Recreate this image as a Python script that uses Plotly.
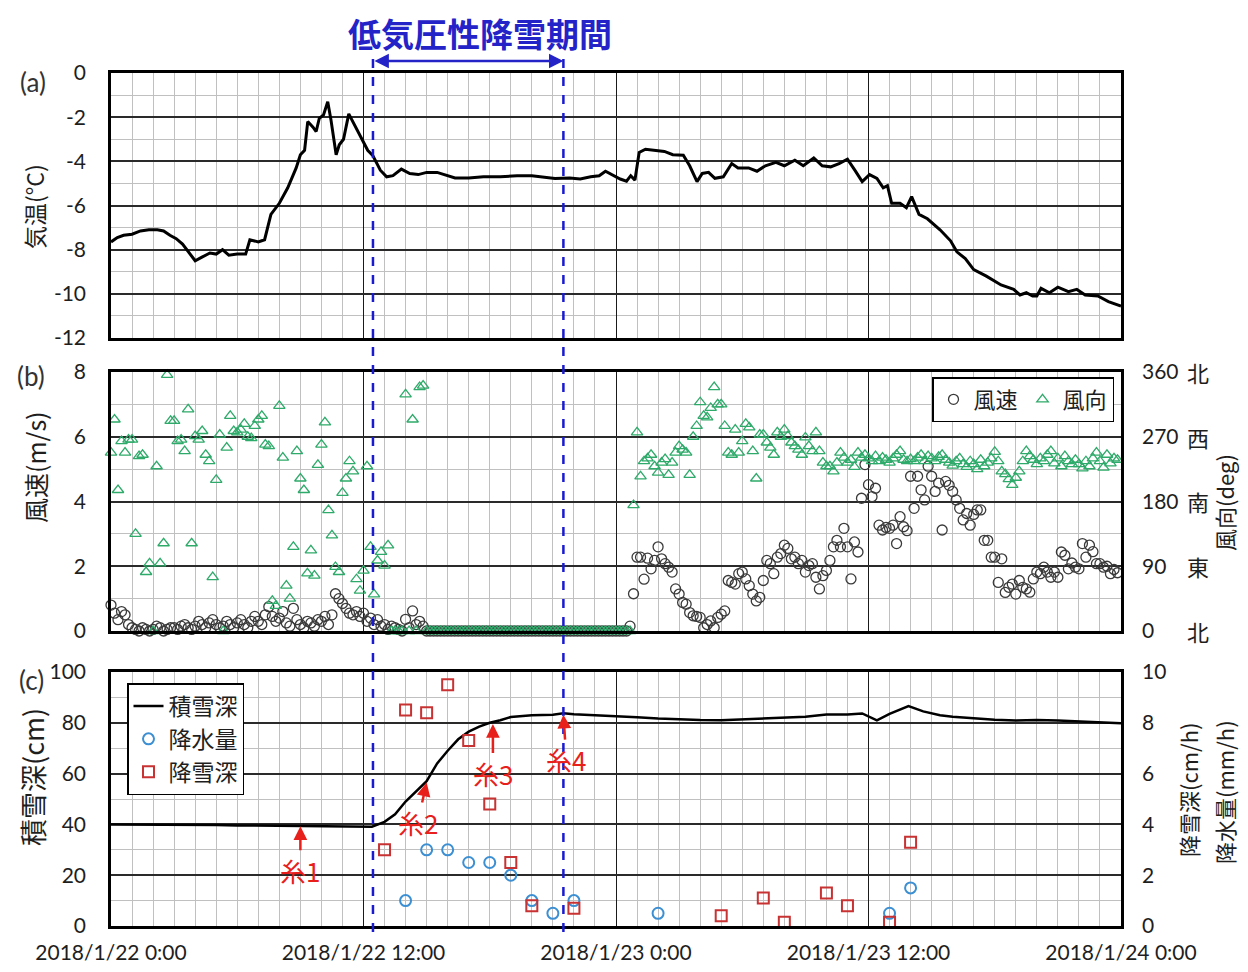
import pandas as pd
import plotly.graph_objects as go
from plotly.subplots import make_subplots

BASE = pd.Timestamp("2018-01-22 00:00")

# ---------------- data ----------------
# (a) air temperature [deg C] at hour offsets from 2018/1/22 0:00
temp_hours = [0.0, 0.3, 0.6, 1.0, 1.4, 1.8, 2.2, 2.5, 2.8, 3.1, 3.4, 3.7, 4.0, 4.3, 4.7, 5.0,
              5.3, 5.6, 6.0, 6.4, 6.6, 7.0, 7.3, 7.6, 8.0, 8.4, 8.8, 9.0, 9.2, 9.35, 9.6, 9.75,
              9.9, 10.1, 10.3, 10.45, 10.7, 10.85, 11.05, 11.3, 11.6, 11.9, 12.2, 12.45, 12.8,
              13.1, 13.4, 13.8, 14.2, 14.6, 15.0, 15.5, 16.0, 16.35, 17.0, 17.7, 18.5, 19.3,
              20.0, 20.6, 21.1, 21.8, 22.3, 22.8, 23.2, 23.5, 23.8, 24.2, 24.5, 24.7, 24.9,
              25.1, 25.4, 25.8, 26.3, 26.7, 27.2, 27.5, 27.85, 28.1, 28.4, 28.7, 29.1, 29.5,
              29.8, 30.3, 30.7, 31.1, 31.6, 32.0, 32.5, 32.9, 33.4, 33.8, 34.2, 34.6, 35.0,
              35.35, 35.7, 36.05, 36.4, 36.7, 36.9, 37.1, 37.5, 37.8, 38.05, 38.4, 38.8, 39.4,
              39.9, 40.2, 40.6, 41.0, 41.6, 42.3, 42.9, 43.2, 43.5, 43.8, 44.0, 44.2, 44.6,
              45.0, 45.5, 45.9, 46.3, 46.9, 47.4, 48.0]
temp_values = [-7.65, -7.45, -7.35, -7.3, -7.15, -7.1, -7.1, -7.15, -7.35, -7.5, -7.75, -8.1,
               -8.5, -8.35, -8.15, -8.2, -8.0, -8.25, -8.2, -8.2, -7.55, -7.65, -7.55, -6.4,
               -5.9, -5.2, -4.3, -3.7, -3.5, -2.2, -2.45, -2.65, -2.05, -1.9, -1.3, -2.1, -3.7,
               -3.25, -3.0, -1.85, -2.4, -3.0, -3.5, -3.75, -4.4, -4.7, -4.65, -4.35, -4.55,
               -4.6, -4.5, -4.5, -4.65, -4.75, -4.75, -4.7, -4.7, -4.65, -4.65, -4.72, -4.78,
               -4.75, -4.8, -4.7, -4.65, -4.45, -4.6, -4.8, -4.9, -4.65, -4.85, -3.6, -3.45,
               -3.5, -3.55, -3.7, -3.72, -4.2, -4.92, -4.55, -4.5, -4.77, -4.7, -4.1, -4.3,
               -4.3, -4.45, -4.2, -4.05, -4.2, -3.95, -4.2, -3.85, -4.2, -4.25, -4.1, -3.9,
               -4.4, -4.92, -4.6, -4.77, -5.2, -5.1, -5.9, -5.9, -6.1, -5.6, -6.4, -6.6, -7.1,
               -7.6, -8.1, -8.4, -8.9, -9.2, -9.6, -9.8, -10.05, -9.95, -10.1, -10.1, -9.75,
               -9.95, -9.7, -9.9, -9.8, -10.05, -10.1, -10.35, -10.55]

# (b) 10-minute wind speed [m/s] (one row per hour, 6 values each)
wind_speed_rows = [
    [0.80, 0.55, 0.35, 0.60, 0.50, 0.20], [0.10, 0.05, 0.00, 0.10, 0.05, 0.00],
    [0.05, 0.15, 0.10, 0.00, 0.05, 0.10], [0.10, 0.05, 0.15, 0.20, 0.10, 0.05],
    [0.15, 0.30, 0.20, 0.10, 0.25, 0.35], [0.20, 0.10, 0.15, 0.30, 0.20, 0.10],
    [0.25, 0.35, 0.20, 0.10, 0.30, 0.45], [0.30, 0.20, 0.50, 0.75, 0.45, 0.30],
    [0.40, 0.60, 0.25, 0.15, 0.70, 0.35], [0.20, 0.10, 0.30, 0.25, 0.15, 0.35],
    [0.30, 0.45, 0.20, 0.50, 1.15, 1.00], [0.85, 0.70, 0.55, 0.50, 0.60, 0.45],
    [0.55, 0.30, 0.40, 0.20, 0.35, 0.15], [0.20, 0.05, 0.15, 0.10, 0.05, 0.00],
    [0.36, 0.10, 0.62, 0.20, 0.30, 0.15], [0, 0, 0, 0, 0, 0], [0, 0, 0, 0, 0, 0],
    [0, 0, 0, 0, 0, 0], [0, 0, 0, 0, 0, 0], [0, 0, 0, 0, 0, 0], [0, 0, 0, 0, 0, 0],
    [0, 0, 0, 0, 0, 0], [0, 0, 0, 0, 0, 0], [0, 0, 0, 0, 0, 0],
    [0, 0, 0, 0, 0.15, 1.15], [2.28, 2.28, 1.60, 2.25, 1.92, 2.18],
    [2.60, 2.23, 2.08, 1.97, 1.82, 1.30], [1.14, 0.88, 0.83, 0.57, 0.47, 0.45],
    [0.42, 0.10, 0.20, 0.31, 0.10, 0.42], [0.52, 0.62, 1.56, 1.50, 1.45, 1.77],
    [1.82, 1.61, 1.40, 1.14, 0.93, 1.04], [1.56, 2.18, 2.08, 1.77, 2.28, 2.39],
    [2.65, 2.55, 2.23, 2.28, 2.08, 2.18], [1.82, 2.02, 2.08, 1.66, 1.30, 1.71],
    [1.87, 2.18, 2.60, 2.80, 2.60, 3.17], [2.60, 1.61, 2.75, 2.44, 4.10, 5.14],
    [4.52, 4.15, 4.41, 3.27, 3.12, 3.20], [3.17, 3.27, 2.70, 3.53, 3.22, 3.10],
    [4.78, 3.79, 4.78, 4.36, 4.05, 5.09], [4.78, 4.31, 4.57, 3.12, 4.62, 4.50],
    [4.31, 4.05, 3.79, 3.43, 3.63, 3.27], [3.60, 3.74, 3.74, 2.80, 2.80, 2.28],
    [2.28, 1.50, 2.23, 1.19, 1.35, 1.45], [1.14, 1.56, 1.35, 1.30, 1.20, 1.61],
    [1.82, 1.77, 1.97, 1.82, 1.66, 1.82], [1.66, 2.44, 2.34, 1.92, 2.10, 1.97],
    [1.92, 2.70, 2.28, 2.65, 2.45, 2.08], [2.08, 1.97, 2.00, 1.77, 1.90, 1.80],
]
# (b) 10-minute wind direction [deg]
wind_dir_rows = [
    [248, 294, 196, 264, 248, 266], [266, 135, 243, 245, 82, 94],
    [0, 229, 94, 122, 356, 292], [292, 264, 266, 250, 308, 122],
    [271, 266, 278, 245, 236, 75], [210, 273, 0, 255, 299, 278],
    [276, 280, 288, 270, 268, 285], [294, 299, 259, 257, 42, 35],
    [313, 241, 63, 45, 117, 250], [212, 196, 80, 112, 77, 231],
    [259, 290, 168, 133, 89, 82], [192, 212, 236, 222, 72, 56],
    [84, 229, 117, 51, 98, 110], [91, 119, 0, 0, 0, 0],
    [329, 0, 294, 0, 339, 341], [0, 0, 0, 0, 0, 0], [0, 0, 0, 0, 0, 0],
    [0, 0, 0, 0, 0, 0], [0, 0, 0, 0, 0, 0], [0, 0, 0, 0, 0, 0], [0, 0, 0, 0, 0, 0],
    [0, 0, 0, 0, 0, 0], [0, 0, 0, 0, 0, 0], [0, 0, 0, 0, 0, 0],
    [0, 0, 0, 0, 0, 175], [276, 215, 236, 240, 245, 229],
    [220, 234, 239, 217, 234, 248], [257, 252, 248, 217, 270, 285],
    [318, 299, 297, 310, 339, 315], [315, 285, 248, 245, 280, 248],
    [264, 288, 283, 250, 212, 273], [273, 262, 255, 245, 276, 270],
    [280, 271, 262, 257, 252, 245], [269, 257, 250, 276, 250, 234],
    [229, 229, 222, 234, 248, 241], [234, 238, 228, 248, 241, 245],
    [240, 236, 243, 236, 241, 238], [234, 240, 245, 250, 238, 236],
    [239, 236, 241, 245, 236, 243], [240, 236, 242, 245, 238, 234],
    [230, 236, 240, 232, 228, 236], [232, 225, 238, 229, 234, 240],
    [249, 236, 222, 218, 211, 203], [213, 222, 236, 250, 243, 238],
    [232, 240, 236, 245, 250, 233], [240, 229, 243, 236, 232, 238],
    [232, 226, 236, 229, 240, 248], [236, 227, 245, 233, 240, 238],
]

# (c) snow depth [cm]
snow_depth_hours = [0, 1, 2, 3, 4, 5, 6, 7, 8, 9, 10, 11, 12, 12.4, 13, 13.5, 14, 14.5, 15,
                    15.5, 16, 16.5, 17, 17.5, 18, 18.5, 19, 20, 21, 21.5, 22, 23, 24, 25, 26,
                    27, 28, 29, 30, 31, 32, 33, 34, 35, 35.7, 36, 36.4, 37, 37.9, 38.6, 39.4,
                    40, 41, 42, 43, 44, 45, 46, 47, 48]
snow_depth_cm = [40, 40, 40, 40, 39.9, 39.8, 39.6, 39.5, 39.3, 39.2, 39.1, 39.1, 39.1, 39.1,
                 41, 44, 49, 53, 57, 64, 69, 73.5, 76.5, 78.5, 80, 81, 82.3, 83, 83.2, 83.8,
                 83.4, 83, 82.7, 82.2, 81.7, 81.3, 81.1, 81, 81.3, 81.7, 82, 82.4, 83.3, 83.3,
                 83.7, 82.5, 81, 83.5, 86.6, 84.5, 83, 82.4, 81.8, 81.2, 80.9, 81.1, 80.9,
                 80.6, 80, 79.8]
# (c) hourly precipitation [mm/h]
precip_hours = [14, 15, 16, 17, 18, 19, 20, 21, 22, 26, 37, 38]
precip_mm = [1.0, 3.0, 3.0, 2.5, 2.5, 2.0, 1.0, 0.5, 1.0, 0.5, 0.5, 1.5]
# (c) hourly snowfall depth [cm/h]
snowfall_hours = [13, 14, 15, 16, 17, 18, 19, 20, 22, 29, 31, 32, 34, 35, 37, 38]
snowfall_cm = [3.0, 8.5, 8.4, 9.5, 7.3, 4.8, 2.5, 0.8, 0.7, 0.4, 1.1, 0.15, 1.3, 0.8, 0.15, 3.3]

# sampling marks (label, hour, snow depth)
ito_labels = ["糸1", "糸2", "糸3", "糸4"]
ito_hours = [9.0, 15.0, 18.15, 21.5]
ito_depths = [39.3, 56.5, 79.5, 83.2]

# low-pressure snowfall period (hours)
period_start_h = 12.45
period_end_h = 21.5

x_tick_hours = [0, 12, 24, 36, 48]
x_tick_labels = ["2018/1/22 0:00", "2018/1/22 12:00", "2018/1/23 0:00",
                 "2018/1/23 12:00", "2018/1/24 0:00"]
temp_ticks = [0, -2, -4, -6, -8, -10, -12]
dir_tick_vals = [0, 90, 180, 270, 360]
dir_tick_kanji = ["北", "東", "南", "西", "北"]


def t(hours):
    return [BASE + pd.Timedelta(hours=h) for h in hours]


wind_speed = [v for row in wind_speed_rows for v in row]
wind_dir = [v for row in wind_dir_rows for v in row]
wind_times = [BASE + pd.Timedelta(minutes=10 * i) for i in range(len(wind_speed))]

# ---------------- figure ----------------
FONT = "Lato, 'Noto Sans CJK JP', sans-serif"
JP = "'Noto Sans CJK JP', sans-serif"
TXT = "#1e1e1e"
BLUE = "#2323c8"

fig = make_subplots(rows=3, cols=1,
                    specs=[[{}], [{"secondary_y": True}], [{"secondary_y": True}]])

fig.add_trace(go.Scatter(x=t(temp_hours), y=temp_values, mode="lines",
                         line=dict(color="black", width=3), showlegend=False),
              row=1, col=1)

fig.add_trace(go.Scatter(x=wind_times, y=wind_speed, mode="markers", name="風速",
                         marker=dict(symbol="circle-open", size=10, color="#3a3a3a",
                                     line=dict(width=1.3)),
                         cliponaxis=False, legend="legend"),
              row=2, col=1, secondary_y=False)
fig.add_trace(go.Scatter(x=wind_times, y=wind_dir, mode="markers", name="風向",
                         marker=dict(symbol="triangle-up-open", size=10, color="#2eaa6a",
                                     line=dict(width=1.3)),
                         cliponaxis=False, legend="legend"),
              row=2, col=1, secondary_y=True)

fig.add_trace(go.Scatter(x=t(snow_depth_hours), y=snow_depth_cm, mode="lines", name="積雪深",
                         line=dict(color="black", width=2.5), legend="legend2"),
              row=3, col=1, secondary_y=False)
fig.add_trace(go.Scatter(x=t(precip_hours), y=precip_mm, mode="markers", name="降水量",
                         marker=dict(symbol="circle-open", size=11, color="#3c8fd2",
                                     line=dict(width=2)),
                         cliponaxis=False, legend="legend2"),
              row=3, col=1, secondary_y=True)
fig.add_trace(go.Scatter(x=t(snowfall_hours), y=snowfall_cm, mode="markers", name="降雪深",
                         marker=dict(symbol="square-open", size=11, color="#c83232",
                                     line=dict(width=2)),
                         cliponaxis=False, legend="legend2"),
              row=3, col=1, secondary_y=True)

# page body has an 8px margin; figure is sized so it fits the 1248x972 window
W, H = 1232, 956
L, R, T, B = 103, 119, 65, 38
PW, PH = W - L - R, H - T - B   # 1010 x 853 plot area (ref px 111..1121, 73..926)


def px_x(p):   # reference-screenshot pixel -> paper x
    return (p - 111) / PW


def px_y(p):   # reference-screenshot pixel -> paper y
    return (926 - p) / PH


dom_a = [px_y(338), 1.0]
dom_b = [px_y(631), px_y(372)]
dom_c = [0.0, px_y(672)]

xr = [BASE, BASE + pd.Timedelta(hours=48)]
common_x = dict(range=xr, type="date", domain=[0, 1], showline=True, mirror=True,
                linecolor="black", linewidth=2.5, showgrid=True, gridcolor="#1a1a1a",
                gridwidth=1.3, tickvals=t(x_tick_hours), ticktext=x_tick_labels, ticks="",
                zeroline=False, automargin=False,
                minor=dict(dtick=3600000, tick0=BASE, showgrid=True,
                           gridcolor="#c0c0c0", gridwidth=1.4))
fig.update_xaxes(**common_x)
fig.update_xaxes(showticklabels=False, row=1, col=1)
fig.update_xaxes(showticklabels=False, row=2, col=1)
fig.update_xaxes(showticklabels=True, tickfont=dict(size=21, color=TXT, family=FONT),
                 ticklabelstandoff=6, row=3, col=1)

common_y = dict(showline=True, mirror=True, linecolor="black", linewidth=2.5,
                showgrid=True, gridcolor="#2a2a2a", gridwidth=1.8, zeroline=False,
                ticks="", automargin=False, ticklabelstandoff=18,
                tickfont=dict(size=21, color=TXT, family=FONT))
fig.update_yaxes(range=[-12, 0], tickvals=temp_ticks,
                 ticktext=[str(v) for v in temp_ticks], domain=dom_a,
                 minor=dict(dtick=1, showgrid=True, gridcolor="#c0c0c0", gridwidth=1.4),
                 **common_y, row=1, col=1)
fig.update_yaxes(range=[0, 8], dtick=2, domain=dom_b,
                 minor=dict(dtick=1, showgrid=True, gridcolor="#c0c0c0", gridwidth=1.4),
                 **common_y, row=2, col=1, secondary_y=False)
fig.update_yaxes(range=[0, 100], dtick=20, domain=dom_c,
                 minor=dict(dtick=10, showgrid=True, gridcolor="#c0c0c0", gridwidth=1.4),
                 **common_y, row=3, col=1, secondary_y=False)

sec_y = dict(showline=False, showgrid=False, zeroline=False, ticks="", automargin=False,
             ticklabelstandoff=20, tickfont=dict(size=21, color=TXT, family=FONT))
fig.update_yaxes(range=[0, 360], tickvals=dir_tick_vals,
                 ticktext=[str(v) for v in dir_tick_vals], domain=dom_b,
                 **sec_y, row=2, col=1, secondary_y=True)
fig.update_yaxes(range=[0, 10], dtick=2, domain=dom_c,
                 **sec_y, row=3, col=1, secondary_y=True)


def label(text, x, y, size, color=TXT, family=JP, angle=0, weight="normal"):
    return dict(text=text, x=px_x(x), y=px_y(y), xref="paper", yref="paper",
                xanchor="center", yanchor="middle", textangle=angle, showarrow=False,
                font=dict(size=size, color=color, family=family, weight=weight))


ann = []
# panel labels
ann.append(label("(a)", 33, 82, 26, "#333", FONT))
ann.append(label("(b)", 31, 376, 26, "#333", FONT))
ann.append(label("(c)", 31, 680, 26, "#333", FONT))
# axis titles
ann.append(label("気温(°C)", 34, 207, 23, angle=-90))
ann.append(label("風速(m/s)", 35, 467, 25, angle=-90))
ann.append(label("積雪深(cm)", 32, 777, 27, angle=-90))
ann.append(label("風向(deg)", 1224, 503, 22, angle=-90))
ann.append(label("降雪深(cm/h)", 1188, 790, 22, angle=-90))
ann.append(label("降水量(mm/h)", 1224, 792, 22, angle=-90))
# compass kanji next to direction ticks
for v, k in zip(dir_tick_vals, dir_tick_kanji):
    ann.append(dict(text=k, x=px_x(1198), y=v, xref="paper", yref="y3",
                    xanchor="center", yanchor="middle", showarrow=False,
                    font=dict(size=22, color=TXT, family=JP)))
# title of period and double arrow
ann.append(label("低気圧性降雪期間", 480, 33, 33, BLUE, weight="bold"))
ann.append(dict(text="", x=BASE + pd.Timedelta(hours=period_end_h), y=px_y(61),
                xref="x", yref="paper", ax=BASE + pd.Timedelta(hours=period_start_h),
                ay=0, axref="x", ayref="pixel", showarrow=True,
                arrowside="end+start", arrowhead=2, arrowsize=1.2, arrowwidth=2.4,
                arrowcolor=BLUE, standoff=0, startstandoff=0))
# sampling marks
ito_dx = [0, -9, 0, 3]
ito_dy = [44, 40, 49, 45]
for lab, h, d, dx, dy in zip(ito_labels, ito_hours, ito_depths, ito_dx, ito_dy):
    ann.append(dict(text=lab, x=BASE + pd.Timedelta(hours=h), y=d, xref="x3", yref="y4",
                    showarrow=True, ax=dx, ay=dy, arrowhead=2, arrowsize=1.1,
                    arrowwidth=2.5, arrowcolor="#e8201c", standoff=0,
                    font=dict(size=26, color="#e8201c", family=JP)))

shapes = []
for h in (period_start_h, period_end_h):
    shapes.append(dict(type="line", xref="x", yref="paper",
                       x0=BASE + pd.Timedelta(hours=h), x1=BASE + pd.Timedelta(hours=h),
                       y0=px_y(932), y1=px_y(58),
                       line=dict(color="#1a1ad0", width=2.5, dash="dash")))

fig.update_layout(
    width=W, height=H, margin=dict(l=L, r=R, t=T, b=B, autoexpand=False),
    paper_bgcolor="white", plot_bgcolor="white",
    font=dict(family=FONT, color=TXT),
    annotations=ann, shapes=shapes,
    legend=dict(x=px_x(932), y=px_y(377), xanchor="left", yanchor="top",
                orientation="h", bgcolor="white", bordercolor="black", borderwidth=1.5,
                font=dict(size=22, color=TXT, family=JP), itemwidth=30,
                tracegroupgap=0),
    legend2=dict(x=px_x(127), y=px_y(683), xanchor="left", yanchor="top",
                 orientation="v", bgcolor="white", bordercolor="black", borderwidth=1.5,
                 font=dict(size=23, color=TXT, family=JP), itemwidth=30,
                 tracegroupgap=0),
)

fig.write_html("out.html")
